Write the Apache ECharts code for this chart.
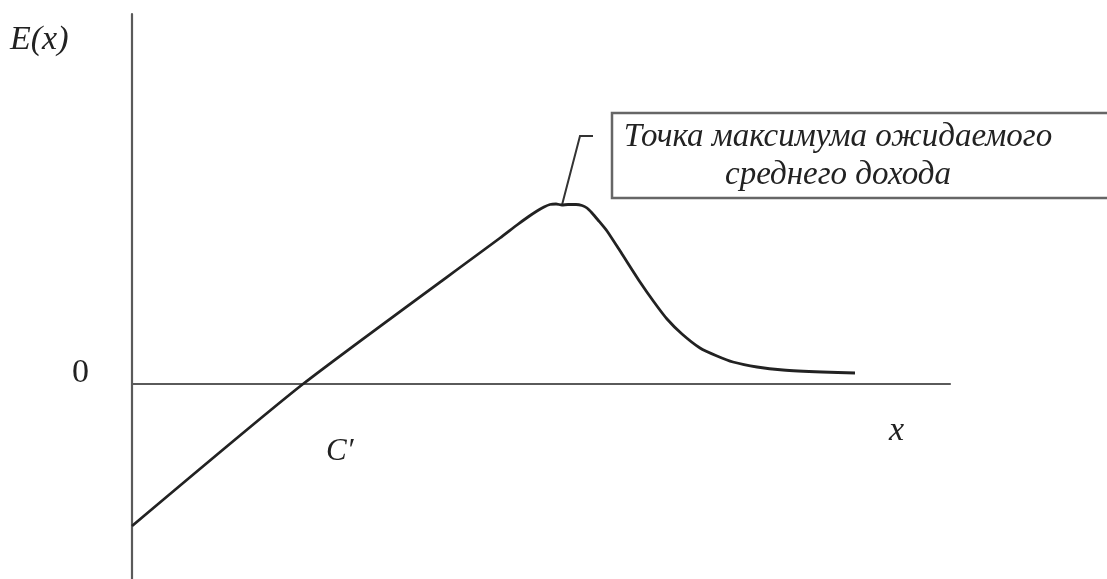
<!DOCTYPE html>
<html>
<head>
<meta charset="utf-8">
<script src="https://cdn.jsdelivr.net/npm/echarts@6/dist/echarts.min.js"></script>
<style>
  html, body { margin: 0; padding: 0; background: #fff; }
  #chart { width: 1107px; height: 579px; }
</style>
</head>
<body>
<div id="chart"></div>
<script>
// curve E(x), units (x from the vertical axis, y from the zero line)
const curveX = [0, 171, 368, 385, 396, 405, 412, 418, 424, 430, 436, 444, 450, 455, 460, 466, 475, 490, 508, 522, 535, 550, 568, 585, 601, 625, 651, 690, 723];
const curveY = [-142, 0, 146, 159, 167, 173, 177, 179.5, 180, 179, 179.5, 179.5, 178.5, 176, 171, 164, 153, 130, 102, 82, 65, 50, 36, 28, 22, 17, 14, 12, 11];
const peakIndex = 9; // where the callout line touches the curve

const xRange = [0, 818];
const yRange = [-195, 370];

const noteLines = ['Точка максимума ожидаемого', 'среднего дохода'];

const chart = echarts.init(document.getElementById('chart'));

const axisStyle = { color: '#5a5a5a', width: 2.2 };

chart.setOption({
  animation: false,
  grid: { left: 132, right: 157, top: 14, bottom: 0 },
  xAxis: {
    type: 'value',
    min: xRange[0],
    max: xRange[1],
    axisLine: { show: true, onZero: true, lineStyle: axisStyle },
    axisTick: { show: false },
    axisLabel: { show: false },
    splitLine: { show: false }
  },
  yAxis: {
    type: 'value',
    min: yRange[0],
    max: yRange[1],
    axisLine: { show: true, onZero: false, lineStyle: axisStyle },
    axisTick: { show: false },
    axisLabel: { show: false },
    splitLine: { show: false }
  },
  series: [{
    type: 'line',
    data: curveX.map((x, i) => [x, curveY[i]]),
    smooth: 0.2,
    showSymbol: false,
    lineStyle: { color: '#222', width: 2.8, join: 'round' }
  }]
});

const peak = chart.convertToPixel({ seriesIndex: 0 }, [curveX[peakIndex], curveY[peakIndex]]);
const serif = '"Liberation Serif", "DejaVu Serif", serif';

chart.setOption({
  graphic: [
    { type: 'text', left: 10, top: 23, style: { text: 'E(x)', font: 'italic 34px ' + serif, fill: '#222' } },
    { type: 'text', left: 72, top: 356, style: { text: '0', font: '34px ' + serif, fill: '#222' } },
    { type: 'text', left: 326, top: 436, style: { text: 'C′', font: 'italic 31px ' + serif, fill: '#222' } },
    { type: 'text', left: 889, top: 414, style: { text: 'x', font: 'italic 34px ' + serif, fill: '#222' } },
    {
      type: 'rect',
      shape: { x: 612, y: 113, width: 520, height: 85 },
      style: { fill: 'none', stroke: '#666', lineWidth: 2.5 }
    },
    {
      type: 'text',
      x: 838, y: 118,
      style: {
        text: noteLines.join('\n'),
        font: 'italic 33px ' + serif,
        lineHeight: 38,
        align: 'center',
        fill: '#222'
      }
    },
    {
      type: 'polyline',
      shape: { points: [[593, 136], [580, 136], [peak[0], peak[1]]] },
      style: { stroke: '#333', lineWidth: 2, fill: 'none' }
    }
  ]
});
</script>
</body>
</html>
